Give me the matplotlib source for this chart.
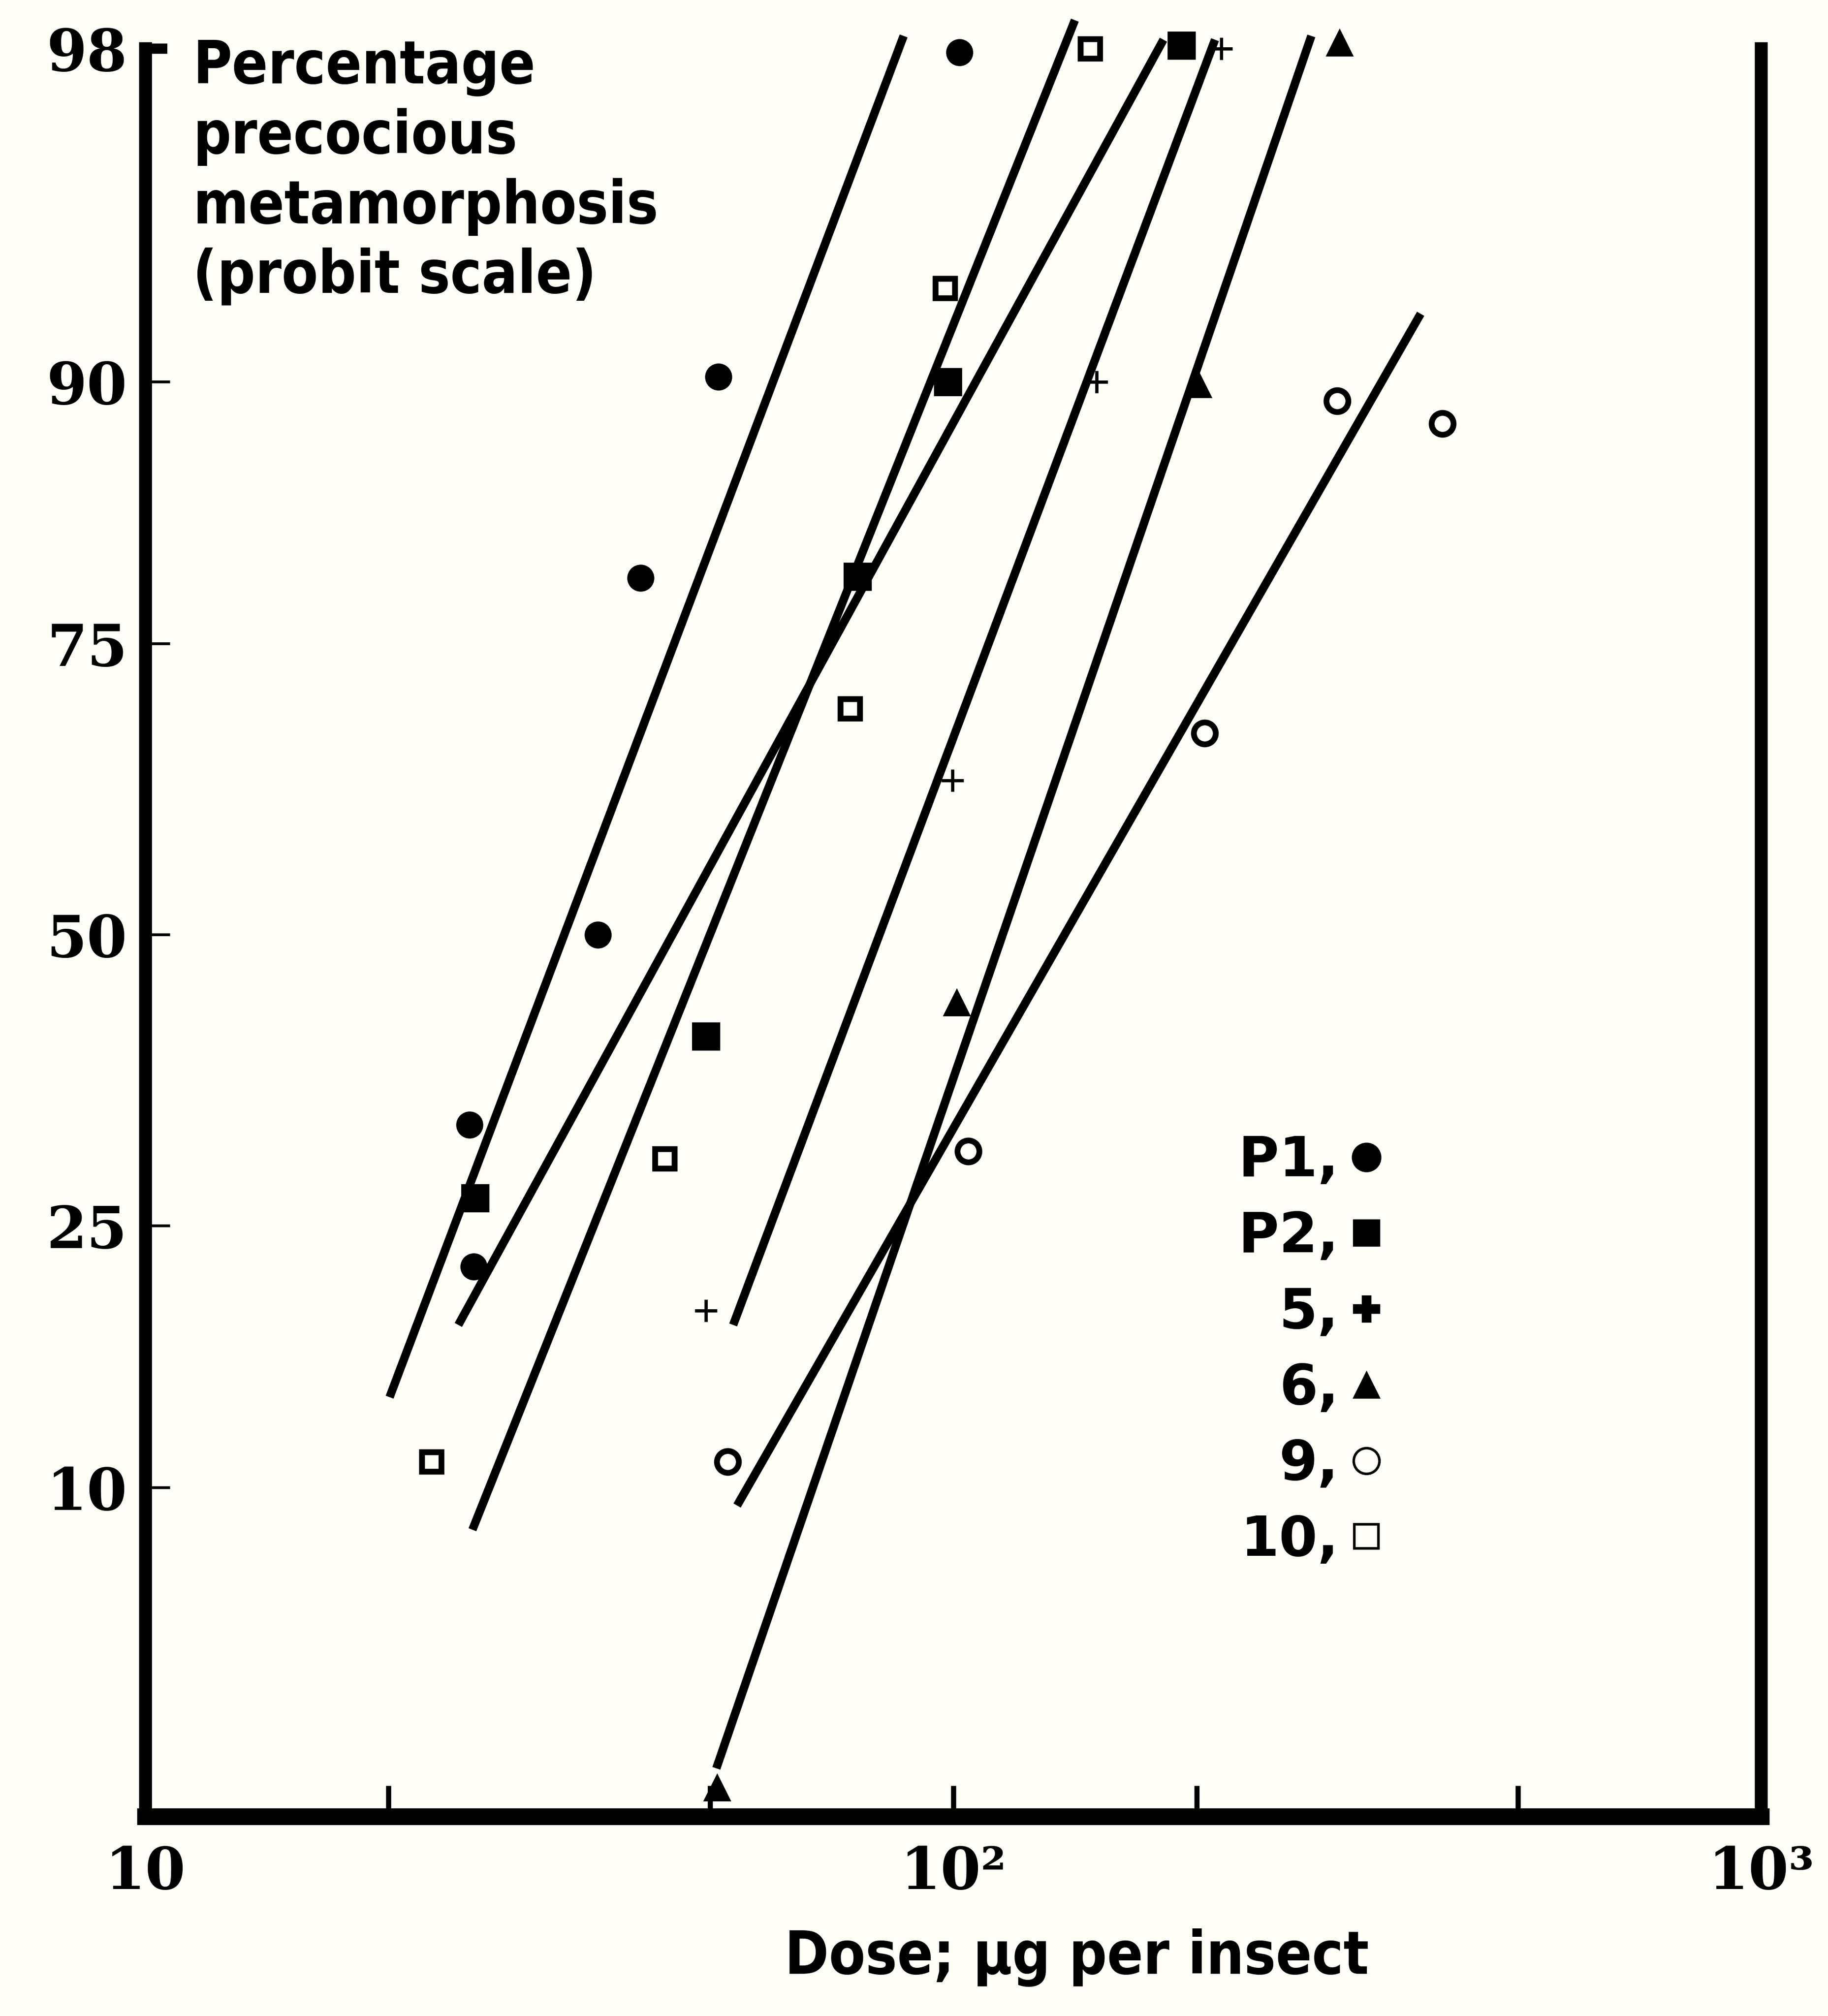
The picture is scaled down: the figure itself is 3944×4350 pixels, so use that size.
import numpy as np
import matplotlib
matplotlib.use("Agg")
import matplotlib.pyplot as plt
from matplotlib.lines import Line2D
from statistics import NormalDist

# dose (ug per insect) and percentage precocious metamorphosis
p1_dose = [25.2, 25.5, 36.3, 41.0, 51.2, 101.7]
p1_pct = [33.0, 22.1, 50.0, 79.6, 90.2, 97.96]
p2_dose = [25.6, 49.4, 76.1, 98.4, 191.6]
p2_pct = [27.1, 40.7, 79.7, 90.0, 98.04]
c5_dose = [49.4, 99.8, 150.4, 214.7]
c5_pct = [19.2, 64.0, 90.0, 98.0]
c6_dose = [51.0, 100.9, 201.0, 300.7]
c6_pct = [2.41, 43.8, 89.9, 98.07]
c9_dose = [52.6, 104.3, 204.6, 298.5, 403.0]
c9_pct = [11.1, 30.8, 68.0, 89.2, 88.2]
c10_dose = [22.6, 43.9, 74.5, 97.7, 147.7]
c10_pct = [11.1, 30.2, 70.0, 93.3, 98.0]

# fitted probit lines, two end points each
p1_line_dose = [20.06, 86.8]
p1_line_pct = [14.2, 98.14]
p2_line_dose = [24.4, 182.0]
p2_line_pct = [18.3, 98.1]
c5_line_dose = [53.4, 210.8]
c5_line_pct = [18.3, 98.1]
c6_line_dose = [50.9, 277.4]
c6_line_pct = [2.67, 98.14]
c9_line_dose = [54.0, 378.8]
c9_line_pct = [9.3, 92.5]
c10_line_dose = [25.4, 141.4]
c10_line_pct = [8.4, 98.3]

y_ticks = [10, 25, 50, 75, 90, 98]
x_ticks = [10, 20, 50, 100, 200, 500, 1000]
x_labels = ["10", "", "", "10²", "", "", "10³"]
legend_labels = ["P1,", "P2,", "5,", "6,", "9,", "10,"]

bg = "#fefdf8"
nd = NormalDist()


def probit(p):
    p = np.clip(np.asarray(p, dtype=float) / 100.0, 1e-6, 1 - 1e-6)
    return np.vectorize(nd.inv_cdf, otypes=[float])(p)


def inv_probit(z):
    z = np.asarray(z, dtype=float)
    return np.vectorize(nd.cdf, otypes=[float])(z) * 100.0


fig = plt.figure(figsize=(19.72, 21.75), dpi=200, facecolor=bg)
ax = fig.add_axes([0.0795, 0.0989, 0.884, 0.8769], facecolor=bg)
ax.set_xscale("log")
ax.set_yscale("function", functions=(probit, inv_probit))
ax.set_xlim(10, 1000)
ax.set_ylim(2.05, 98.0)

lw = 6.5
lines = [(p1_line_dose, p1_line_pct), (p2_line_dose, p2_line_pct),
         (c5_line_dose, c5_line_pct), (c6_line_dose, c6_line_pct),
         (c9_line_dose, c9_line_pct), (c10_line_dose, c10_line_pct)]
for xs, ys in lines:
    ax.plot(xs, ys, color="black", lw=lw, solid_capstyle="butt", clip_on=False, zorder=2)

ax.plot(p1_dose, p1_pct, "o", color="black", ms=20, ls="none", clip_on=False, zorder=3)
ax.plot(p2_dose, p2_pct, "s", color="black", ms=21, ls="none", clip_on=False, zorder=3)
ax.plot(c5_dose, c5_pct, "+", color="black", ms=17, mew=2.5, ls="none", clip_on=False, zorder=3)
ax.plot(c6_dose, c6_pct, "^", color="black", ms=20, ls="none", clip_on=False, zorder=3)
ax.plot(c9_dose, c9_pct, "o", mfc=bg, mec="black", ms=17, mew=4.5, ls="none", clip_on=False, zorder=3)
ax.plot(c10_dose, c10_pct, "s", mfc=bg, mec="black", ms=15, mew=4.5, ls="none", clip_on=False, zorder=3)

# axes frame
ax.spines["top"].set_visible(False)
ax.spines["left"].set_linewidth(10)
ax.spines["right"].set_linewidth(10)
ax.spines["bottom"].set_linewidth(13)
for s in ax.spines.values():
    s.set_capstyle("projecting")

serif = {"family": "DejaVu Serif", "weight": "bold", "size": 45}
ax.set_yticks(y_ticks)
ax.set_yticklabels([str(v) for v in y_ticks], fontdict=serif)
ax.set_xticks(x_ticks)
ax.set_xticklabels(x_labels, fontdict=serif)
ax.minorticks_off()
ax.tick_params(axis="y", direction="in", length=19, width=2.2, pad=14)
ax.tick_params(axis="x", direction="in", length=24, width=4, pad=22)
top_tick = ax.yaxis.get_major_ticks()[-1]
top_tick.tick1line.set_markeredgewidth(8)
top_tick.tick1line.set_markersize(17)

sans_cond = {"family": "DejaVu Sans", "weight": "bold", "stretch": "condensed", "size": 46}
fig.text(0.1055, 0.981, "Percentage\nprecocious\nmetamorphosis\n(probit scale)",
         ha="left", va="top", linespacing=1.26, fontdict=sans_cond)
fig.text(0.589, 0.029, "Dose; μg per insect", ha="center", va="center", fontdict=sans_cond)

handles = [
    Line2D([], [], marker="o", color="black", ls="none", ms=22),
    Line2D([], [], marker="s", color="black", ls="none", ms=20),
    Line2D([], [], marker="P", color="black", ls="none", ms=20),
    Line2D([], [], marker="^", color="black", ls="none", ms=20),
    Line2D([], [], marker="o", mfc="none", mec="black", mew=2, ls="none", ms=20),
    Line2D([], [], marker="s", mfc="none", mec="black", mew=2, ls="none", ms=19),
]
ax.legend(handles, legend_labels, loc="upper right", bbox_to_anchor=(0.766, 0.386),
          markerfirst=False, frameon=False, handlelength=0.6, handletextpad=0.2,
          labelspacing=0.40, borderpad=0, borderaxespad=0,
          prop={"family": "DejaVu Sans", "weight": "bold", "size": 43})

fig.savefig("out.png", dpi=200, facecolor=bg)
